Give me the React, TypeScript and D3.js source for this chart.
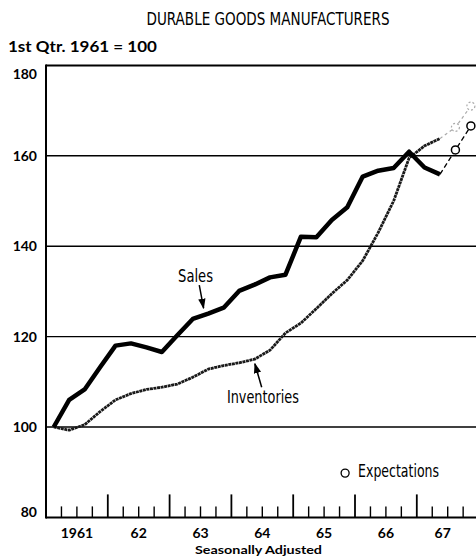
import { line, scaleLinear, range } from "d3";

// quarterly index values, 1st Qtr. 1961 = 100
const salesIndex = [
  100, 106, 108.3, 113.2, 118, 118.5, 117.6, 116.6, 120.3, 123.9, 125.1, 126.4,
  130.1, 131.5, 133.1, 133.7, 142.1, 142, 145.8, 148.6, 155.4, 156.7, 157.3,
  160.9, 157.4, 155.9,
];
const inventoryIndex = [
  100, 99.3, 100.5, 103.4, 106, 107.4, 108.3, 108.8, 109.5, 111, 112.8, 113.6,
  114.2, 115, 117, 120.8, 123, 126.2, 129.5, 132.5, 136.8, 143, 150, 159.5,
  162.2, 163.8,
];
// expectations for the next two quarters
const salesExpect = [161.3, 166.6];
const inventoryExpect = [166.3, 171];

const yearLabels = ["1961", "62", "63", "64", "65", "66", "67"];
const yTicks = [80, 100, 120, 140, 160, 180];

const W = 476;
const H = 558;
const condensed = "'Liberation Sans Narrow', 'DejaVu Sans Condensed', 'Roboto Condensed', sans-serif";
const geo = "Lato, 'DejaVu Sans', sans-serif";

export default function App() {
  const x = scaleLinear().domain([1961, 1968]).range([46, 478.6]);
  const y = scaleLinear().domain([80, 180]).range([517.4, 65.4]);
  const qt = (i: number) => 1961 + (i + 0.5) / 4;

  const path = line<[number, number]>()
    .x((d) => x(d[0]))
    .y((d) => y(d[1]));

  const sales = salesIndex.map((v, i) => [qt(i), v] as [number, number]);
  const inv = inventoryIndex.map((v, i) => [qt(i), v] as [number, number]);
  const n = salesIndex.length;
  const salesExp = salesExpect.map((v, i) => [qt(n + i), v] as [number, number]);
  const invExp = inventoryExpect.map((v, i) => [qt(n + i), v] as [number, number]);

  const quarterTicks = range(1, 28).map((k) => 1961 + k / 4);

  return (
    <svg
      width={W}
      height={H}
      style={{ position: "absolute", left: 0, top: 0, background: "#fff" }}
    >
      <defs>
        <marker id="arr" viewBox="0 0 10 10" refX="9" refY="5" markerWidth="7" markerHeight="7" orient="auto">
          <path d="M0,1.5 L10,5 L0,8.5 Z" fill="#000" />
        </marker>
      </defs>

      <text x={268} y={25} textAnchor="middle" fontFamily={condensed} fontSize={17.5}
        textLength={243} lengthAdjust="spacingAndGlyphs">
        DURABLE GOODS MANUFACTURERS
      </text>
      <text x={8} y={52} fontFamily={geo} fontWeight={700} fontSize={14.5}
        textLength={149} lengthAdjust="spacingAndGlyphs">
        1st Qtr. 1961 = 100
      </text>

      {/* grid lines */}
      {yTicks.slice(1, -1).map((t) => (
        <line key={t} x1={x(1961)} x2={W} y1={y(t)} y2={y(t)} stroke="#000" strokeWidth={1.4} />
      ))}
      <line x1={x(1961)} x2={W} y1={y(180)} y2={y(180)} stroke="#000" strokeWidth={2} />
      <line x1={x(1961)} x2={W} y1={y(80)} y2={y(80)} stroke="#000" strokeWidth={2} />
      <line x1={x(1961)} x2={x(1961)} y1={y(180) - 1} y2={y(80) + 1} stroke="#000" strokeWidth={2} />

      {/* y labels */}
      {yTicks.map((t) => (
        <text key={t} x={37} y={y(t)}
          dy={t === 180 ? "0.95em" : t === 80 ? "-0.02em" : "0.36em"}
          textAnchor="end" fontFamily={geo} fontWeight={700} fontSize={14}>
          {t}
        </text>
      ))}

      {/* quarter ticks */}
      {quarterTicks.map((t, k) => {
        const major = (k + 1) % 4 === 0;
        return (
          <line key={k} x1={x(t)} x2={x(t)} y1={y(80)} y2={y(80) - (major ? 23 : 11)}
            stroke="#000" strokeWidth={major ? 1.8 : 1.4} />
        );
      })}
      {yearLabels.map((lab, i) => (
        <text key={lab} x={x(1961 + i + 0.5) - (i === 6 ? 5 : 0)} y={538} textAnchor="middle"
          fontFamily={geo} fontWeight={700} fontSize={14}>
          {lab}
        </text>
      ))}
      <text x={258.5} y={554} textAnchor="middle" fontFamily={geo} fontWeight={700} fontSize={12}
        textLength={127} lengthAdjust="spacingAndGlyphs">
        Seasonally Adjusted
      </text>

      {/* inventories */}
      <path d={path(inv) ?? ""} fill="none" stroke="#1a1a1a" strokeWidth={2.8}
        strokeDasharray="3 0.6" strokeLinejoin="round" />
      <path d={path([inv[inv.length - 1], ...invExp]) ?? ""} fill="none" stroke="#aaa"
        strokeWidth={1.2} strokeDasharray="3 3" />
      {invExp.map((d, i) => (
        <circle key={i} cx={x(d[0])} cy={y(d[1])} r={4} fill="#fff" stroke="#aaa"
          strokeWidth={1.2} strokeDasharray="2 2" />
      ))}

      {/* sales */}
      <path d={path(sales) ?? ""} fill="none" stroke="#000" strokeWidth={4.5} strokeLinejoin="round" />
      <path d={path([sales[sales.length - 1], ...salesExp]) ?? ""} fill="none" stroke="#000"
        strokeWidth={1.3} strokeDasharray="5 3" />
      {salesExp.map((d, i) => (
        <circle key={i} cx={x(d[0])} cy={y(d[1])} r={4} fill="#fff" stroke="#000" strokeWidth={1.5} />
      ))}

      {/* annotations */}
      <text x={x(1963.42)} y={y(132.1)} textAnchor="middle" fontFamily={condensed} fontSize={17}
        textLength={35} lengthAdjust="spacingAndGlyphs">
        Sales
      </text>
      <line x1={x(1963.48)} y1={y(131.4)} x2={x(1963.55)} y2={y(126.3)} stroke="#000"
        strokeWidth={1.5} markerEnd="url(#arr)" />
      <text x={x(1964.51)} y={y(105.3)} textAnchor="middle" fontFamily={condensed} fontSize={17}
        textLength={72} lengthAdjust="spacingAndGlyphs">
        Inventories
      </text>
      <line x1={x(1964.49)} y1={y(108.8)} x2={x(1964.38)} y2={y(114)} stroke="#000"
        strokeWidth={1.5} markerEnd="url(#arr)" />

      <circle cx={x(1965.84)} cy={y(89.8)} r={4} fill="#fff" stroke="#000" strokeWidth={1.3} />
      <text x={x(1966.05)} y={y(88.9)} fontFamily={condensed} fontSize={17}
        textLength={81} lengthAdjust="spacingAndGlyphs">
        Expectations
      </text>
    </svg>
  );
}
